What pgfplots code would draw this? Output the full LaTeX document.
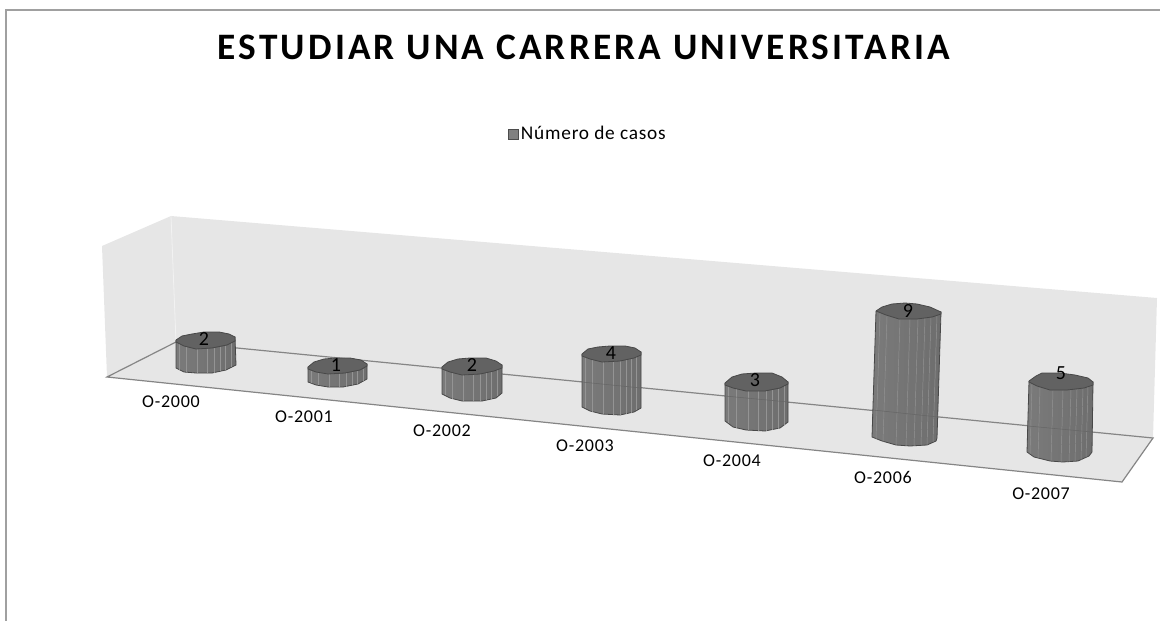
\documentclass[border=0pt]{standalone}
\usepackage{fontspec}
\setmainfont{Carlito}
\newfontfamily\titlefont[LetterSpace=8.5]{Carlito}
\newfontfamily\labelfont[LetterSpace=4]{Carlito}
\usepackage{pgfplots}
\pgfplotsset{compat=1.18}

\definecolor{wall}{HTML}{E6E6E6}
\definecolor{edge}{HTML}{858585}
\definecolor{frame}{HTML}{A0A0A0}
\definecolor{cyltop}{HTML}{626262}
\definecolor{cylline}{HTML}{484848}
\definecolor{streak}{HTML}{949494}

\pgfplotsset{
  body/.style={forget plot, draw=cylline, line width=0.6pt, left color=black!52, middle color=black!45, right color=black!57},
  cap/.style={forget plot, draw=cylline, line width=0.6pt, fill=cyltop},
  streaks/.style={forget plot, draw=streak, line width=0.35pt, unbounded coords=jump},
  throughline/.style={forget plot, draw=black!60, line width=0.4pt},
  walledge/.style={forget plot, draw=edge, line width=0.9pt},
  textnodes/.style={forget plot, only marks, mark=none, point meta=explicit symbolic, nodes near coords,
    every node near coord/.append style={anchor=center, inner sep=0pt, text=black, font=#1}},
}

\pgfplotstableread{
x y label
171 402 O-2000
304 417 O-2001
442 431 O-2002
585 446 O-2003
732 461 O-2004
883 477 O-2006
1041 494 O-2007
}\categories

\pgfplotstableread{
x y label
204 339 2
336 365 1
472 365 2
611 353 4
755 380 3
908 311 9
1061 373 5
}\casos

\begin{document}
\begin{tikzpicture}
\begin{axis}[
    scale only axis,
    width=870pt, height=465.75pt,
    xmin=0, xmax=1160, ymin=0, ymax=621,
    y dir=reverse,
    ticks=none,
    axis line style={draw=none},
    title={\titlefont\bfseries ESTUDIAR UNA CARRERA UNIVERSITARIA},
    title style={at={(axis cs:584,55)}, anchor=center, font=\fontsize{28}{32}\selectfont, inner sep=0pt},
    legend style={at={(axis cs:588,134)}, anchor=center, draw=none, fill=none, inner sep=0pt,
      font=\labelfont\fontsize{14.5}{16}\selectfont},
]

% chart frame
\addplot[forget plot, draw=frame, line width=1.3pt] coordinates {(6,621) (6,10) (1160,10)};

% walls and floor
\addplot[forget plot, draw=none, fill=wall] coordinates {(102,246) (171,216) (176,342) (107,377) (102,246)};
\addplot[forget plot, draw=none, fill=wall] coordinates {(171,216) (1157,298) (1153,438) (176,342) (171,216)};
\addplot[forget plot, draw=none, fill=wall] coordinates {(107,377) (176,342) (1153,438) (1122,482) (107,377)};
\addplot[forget plot, draw=white!50!wall, line width=0.6pt] coordinates {(171,216) (176,342)};
\addplot[walledge] coordinates {(176,342) (107,377) (1122,482) (1153,438) (176,342)};

% O-2000
\addplot[body] coordinates {(176,340) (176,368) (184,372) (196,373) (212,373) (226,370) (236,365) (235,337) (176,340)};
\addplot[streaks] coordinates {(179,344) (179,370) (nan,nan) (186,347) (186,372) (nan,nan) (197,349) (197,373) (nan,nan) (207,349) (207,373) (nan,nan) (214,348) (214,373) (nan,nan) (220,346) (220,371) (nan,nan) (225,345) (225,370) (nan,nan) (231,343) (231,367)};
\addplot[cap] coordinates {(176,340) (182,336) (192,334) (204,332) (219,332) (229,334) (235,337) (235,341) (227,345) (212,348) (196,349) (184,346) (176,342) (176,340)};

% O-2001
\addplot[body] coordinates {(308,367) (308,382) (316,385) (328,387) (343,387) (358,384) (367,379) (367,364) (308,367)};
\addplot[streaks] coordinates {(311,370) (311,383) (nan,nan) (318,372) (318,385) (nan,nan) (329,374) (329,387) (nan,nan) (339,374) (339,387) (nan,nan) (346,373) (346,387) (nan,nan) (352,372) (352,386) (nan,nan) (357,371) (357,385) (nan,nan) (363,369) (363,382)};
\addplot[cap] coordinates {(308,367) (314,362) (324,359) (336,358) (350,358) (361,360) (367,364) (367,366) (360,370) (345,373) (328,374) (316,372) (308,369) (308,367)};

% O-2002
\addplot[body] coordinates {(442,367) (442,394) (450,398) (462,401) (482,401) (496,398) (502,393) (502,365) (442,367)};
\addplot[streaks] coordinates {(445,370) (445,395) (nan,nan) (452,373) (452,399) (nan,nan) (463,375) (463,401) (nan,nan) (473,375) (473,401) (nan,nan) (480,374) (480,401) (nan,nan) (486,373) (486,400) (nan,nan) (491,372) (491,399) (nan,nan) (497,370) (497,396)};
\addplot[cap] coordinates {(442,367) (448,362) (458,359) (470,358) (486,358) (496,361) (502,365) (502,368) (494,371) (480,374) (462,375) (450,372) (442,369) (442,367)};

% O-2003
\addplot[body] coordinates {(582,354) (582,407) (590,411) (602,414) (620,415) (634,412) (641,408) (641,352) (582,354)};
\addplot[streaks] coordinates {(585,357) (585,408) (nan,nan) (592,360) (592,412) (nan,nan) (603,362) (603,414) (nan,nan) (613,362) (613,415) (nan,nan) (620,361) (620,415) (nan,nan) (626,360) (626,414) (nan,nan) (631,359) (631,413) (nan,nan) (636,357) (636,410)};
\addplot[throughline] coordinates {(582,382) (641,388)};
\addplot[cap] coordinates {(582,354) (588,349) (598,347) (610,346) (625,346) (635,348) (641,352) (641,355) (634,358) (620,361) (602,362) (590,359) (582,356) (582,354)};

% O-2004
\addplot[body] coordinates {(725,383) (725,421) (733,427) (746,430) (765,431) (780,428) (788,422) (788,382) (725,383)};
\addplot[streaks] coordinates {(728,386) (728,423) (nan,nan) (736,389) (736,428) (nan,nan) (748,391) (748,430) (nan,nan) (758,391) (758,431) (nan,nan) (766,391) (766,431) (nan,nan) (772,390) (772,430) (nan,nan) (778,389) (778,429) (nan,nan) (784,386) (784,425)};
\addplot[throughline] coordinates {(725,396) (788,402)};
\addplot[cap] coordinates {(725,383) (732,377) (742,374) (756,373) (772,373) (782,377) (788,382) (788,384) (780,388) (765,391) (746,391) (733,388) (725,385) (725,383)};

% O-2006
\addplot[body] coordinates {(876,311) (872,437) (882,441) (896,445) (910,446) (927,445) (936,441) (937,438) (941,312) (876,311)};
\addplot[streaks] coordinates {(880,313) (876,439) (nan,nan) (887,316) (883,442) (nan,nan) (900,319) (896,445) (nan,nan) (910,319) (906,446) (nan,nan) (918,319) (914,446) (nan,nan) (925,318) (921,445) (nan,nan) (931,317) (927,445) (nan,nan) (937,315) (933,442)};
\addplot[throughline] coordinates {(873,410) (938,417)};
\addplot[cap] coordinates {(876,311) (882,307) (892,304) (905,303) (917,304) (930,307) (941,312) (941,314) (932,317) (917,319) (899,319) (886,315) (876,311)};

% O-2007
\addplot[body] coordinates {(1029,381) (1027,452) (1034,457) (1050,461) (1063,462) (1078,461) (1089,456) (1092,452) (1093,382) (1029,381)};
\addplot[streaks] coordinates {(1032,384) (1030,454) (nan,nan) (1040,387) (1038,458) (nan,nan) (1053,390) (1051,461) (nan,nan) (1063,390) (1061,462) (nan,nan) (1071,389) (1069,462) (nan,nan) (1077,389) (1075,461) (nan,nan) (1083,388) (1081,460) (nan,nan) (1088,386) (1086,457)};
\addplot[throughline] coordinates {(1028,426) (1092,432)};
\addplot[cap] coordinates {(1029,381) (1036,376) (1042,373) (1060,373) (1075,375) (1088,378) (1093,382) (1093,385) (1084,388) (1067,390) (1050,390) (1037,386) (1029,382) (1029,381)};

% category names and values
\addplot[textnodes={\labelfont\fontsize{13.5}{16}\selectfont}] table[x=x, y=y, meta=label] {\categories};
\addplot[textnodes={\fontsize{15}{17}\selectfont}] table[x=x, y=y, meta=label] {\casos};

\addlegendimage{legend image code/.code={\draw[draw=black!70, fill=black!50, line width=0.5pt] (0pt,-3.75pt) rectangle (7.5pt,3.75pt);}}
\addlegendentry{Número de casos}
\end{axis}
\end{tikzpicture}
\end{document}
